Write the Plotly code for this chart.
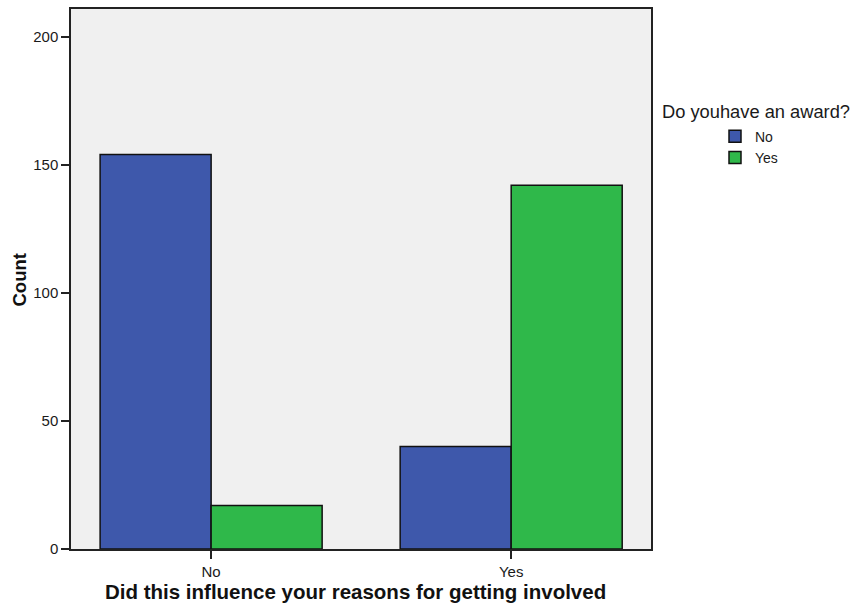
import plotly.graph_objects as go

categories = ["No", "Yes"]
award_no = [154, 40]
award_yes = [17, 142]
series_names = ["No", "Yes"]
y_ticks = [0, 50, 100, 150, 200]

FONT = "Liberation Sans, Arial, sans-serif"
BLUE = "#3e58ab"
GREEN = "#2fb84a"

fig = go.Figure()
fig.add_trace(go.Bar(x=categories, y=award_no, name=series_names[0],
                     marker=dict(color=BLUE, line=dict(color="#111111", width=1.5))))
fig.add_trace(go.Bar(x=categories, y=award_yes, name=series_names[1],
                     marker=dict(color=GREEN, line=dict(color="#111111", width=1.5))))

L, R, T, B = 71, 205, 7, 55
W, H = 856, 604
pw = W - L - R
ph = H - T - B

def px(x):
    return (x - L) / pw

def py(y):
    return (H - B - y) / ph

fig.update_layout(
    width=W, height=H,
    margin=dict(l=L, r=R, t=T, b=B, pad=0),
    paper_bgcolor="white",
    plot_bgcolor="#f0f0f0",
    barmode="group",
    bargap=0.26,
    bargroupgap=0,
    font=dict(family=FONT, color="#1a1a1a", size=15),
    showlegend=True,
    legend=dict(
        x=px(715), y=py(119), xanchor="left", yanchor="top",
        font=dict(size=14, family=FONT, color="#1a1a1a"),
        bgcolor="rgba(0,0,0,0)",
        tracegroupgap=0,
    ),
    xaxis=dict(
        range=[-0.467, 1.466],
        showgrid=False, zeroline=False,
        showline=True, linecolor="#222222", linewidth=1.5, mirror=True,
        ticks="outside", ticklen=8, tickcolor="#222222", tickwidth=1.5,
        tickfont=dict(size=15, family=FONT),
    ),
    yaxis=dict(
        range=[0, 210.8],
        tickvals=y_ticks,
        showgrid=False, zeroline=False,
        showline=True, linecolor="#222222", linewidth=1.5, mirror=True,
        ticks="outside", ticklen=8, tickcolor="#222222", tickwidth=1.5,
        tickfont=dict(size=15, family=FONT),
    ),
    annotations=[
        dict(text="Do youhave an award?", xref="paper", yref="paper",
             x=px(660), y=py(110), xanchor="left", yanchor="middle",
             showarrow=False, font=dict(size=18.3, family=FONT, color="#1a1a1a")),
        dict(text="<b>Did this influence your reasons for getting involved</b>",
             xref="paper", yref="paper", x=px(355), y=py(592),
             xanchor="center", yanchor="middle", showarrow=False,
             font=dict(size=20.5, family=FONT, color="#111111")),
        dict(text="<b>Count</b>", xref="paper", yref="paper",
             x=px(19.5), y=py(279), xanchor="center", yanchor="middle",
             textangle=-90, showarrow=False,
             font=dict(size=18.5, family=FONT, color="#111111")),
    ],
)

fig.write_html("out.html", config={"displayModeBar": False},
               post_script="document.body.style.margin='0';")
